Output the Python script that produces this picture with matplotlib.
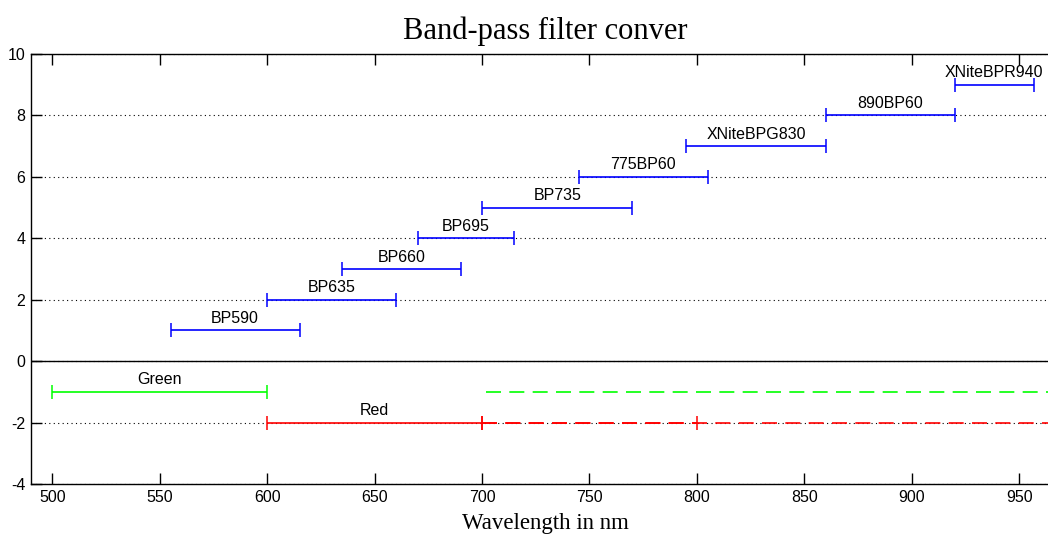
import matplotlib
matplotlib.use("Agg")
import matplotlib.pyplot as plt

plt.rcParams['axes.unicode_minus'] = False
plt.rcParams['font.family'] = ['Liberation Sans', 'DejaVu Sans']

# band-pass filters: name, start, end (nm), row
filter_names = ['BP590', 'BP635', 'BP660', 'BP695', 'BP735', '775BP60',
                'XNiteBPG830', '890BP60', 'XNiteBPR940']
filter_start = [555, 600, 635, 670, 700, 745, 795, 860, 920]
filter_end = [615, 660, 690, 715, 770, 805, 860, 920, 957]
filter_row = [1, 2, 3, 4, 5, 6, 7, 8, 9]

# camera channels
chan_names = ['Green', 'Red']
chan_start = [500, 600]
chan_end = [600, 700]
chan_row = [-1, -2]
chan_colors = ['#00ff00', '#ff0000']
# long-pass tails (dashed)
tail_start = [702, 700]
tail_end = [1000, 1000]
red_mark = [700, 800]

fig = plt.figure(figsize=(10.48, 5.34), dpi=100)
# axes runs off the right edge of the picture, like the original
ax = fig.add_axes([31 / 1048, 50 / 534, 1028 / 1048, 430 / 534])

ax.grid(axis='y', linestyle=(0, (1, 3)), color='k', linewidth=0.8)
ax.set_axisbelow(True)
ax.axhline(0, color='k', linewidth=1.0)

def span(x0, x1, y, color, ls='-'):
    c = (x0 + x1) / 2
    h = ax.errorbar([c], [y], xerr=[[c - x0], [x1 - c]], fmt='none',
                    ecolor=color, elinewidth=1.2, capsize=5, capthick=1.1)
    h[2][0].set_linestyle(ls)

for name, x0, x1, y in zip(filter_names, filter_start, filter_end, filter_row):
    span(x0, x1, y, '#0000ff')
    ax.text((x0 + x1) / 2, y + 0.24, name, ha='center', va='baseline', fontsize=11.5)

for name, x0, x1, y, col in zip(chan_names, chan_start, chan_end, chan_row, chan_colors):
    span(x0, x1, y, col)
    ax.text((x0 + x1) / 2, y + 0.24, name, ha='center', va='baseline', fontsize=11.5)

for x0, x1, y, col in zip(tail_start, tail_end, chan_row, chan_colors):
    ax.plot([x0, x1], [y, y], color=col, linewidth=1.2, dashes=(9, 5))
span(red_mark[0], red_mark[1], chan_row[1], chan_colors[1], ls=(0, (9, 5)))

ax.set_xlim(490, 490 + 1028 / 2.148)
ax.set_ylim(-4, 10)
ax.set_xticks(range(500, 951, 50))
ax.set_yticks(range(-4, 11, 2))
ax.tick_params(direction='in', length=8, width=1, top=True, right=False,
               labelsize=11.5, pad=4)
for s in ax.spines.values():
    s.set_linewidth(1.0)
ax.spines['right'].set_visible(False)

ax.set_title('Band-pass filter conver', family='Liberation Serif', fontsize=22, pad=11)
ax.set_xlabel('Wavelength in nm', family='Liberation Serif', fontsize=16.5, labelpad=6)

fig.savefig('out.png', dpi=100)
